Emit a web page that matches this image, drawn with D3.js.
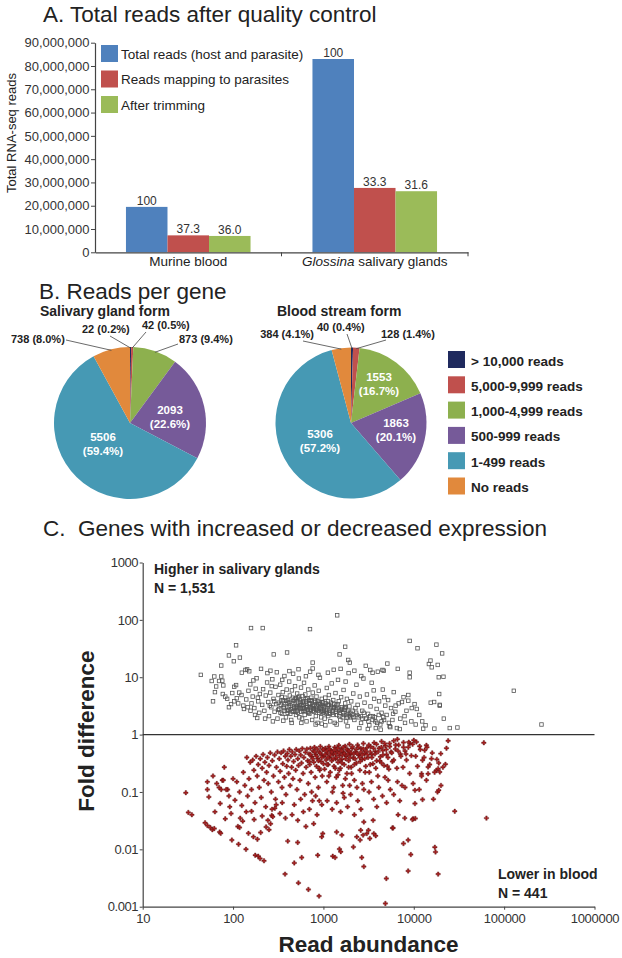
<!DOCTYPE html>
<html><head><meta charset="utf-8">
<script src="https://cdn.jsdelivr.net/npm/d3@7"></script>
<style>
body{margin:0;background:#fff;}
svg{display:block;font-family:"Liberation Sans",Arial,Helvetica,sans-serif;}
</style></head><body>
<svg id="fig" width="622" height="958"></svg>
<script>
// ---------- Panel A data ----------
const barGroups = ["Murine blood", "Glossina salivary glands"];
const barSeries = ["Total reads (host and parasite)", "Reads mapping to parasites", "After trimming"];
const totalReads = [19500000, 83000000];
const parasiteReads = [7270000, 27640000];
const trimmedReads = [7020000, 26230000];
const totalPct = [100, 100];
const parasitePct = [37.3, 33.3];
const trimmedPct = [36.0, 31.6];
const readTicks = [0, 10000000, 20000000, 30000000, 40000000, 50000000, 60000000, 70000000, 80000000, 90000000];

// ---------- Panel B data ----------
const readClasses = ["> 10,000 reads", "5,000-9,999 reads", "1,000-4,999 reads", "500-999 reads", "1-499 reads", "No reads"];
const salivaryCounts = [22, 42, 873, 2093, 5506, 738];
const salivaryPct = [0.2, 0.5, 9.4, 22.6, 59.4, 8.0];
const bloodCounts = [40, 128, 1553, 1863, 5306, 384];
const bloodPct = [0.4, 1.4, 16.7, 20.1, 57.2, 4.1];

// ---------- Panel C data: [read abundance, fold difference] ----------
const foldTicks = [0.001, 0.01, 0.1, 1, 10, 100, 1000];
const abundanceTicks = [10, 100, 1000, 10000, 100000, 1000000];
const higherInSalivary = [
 [1420,120],[158,72],[213,72],[710,69],[9000,43],[17800,37],[11000,32],[108,36],[1740,34],[396,27],[20600,26],[282,25],[1510,25],[90,24],[119,22],[1880,20],[15300,19.5],[102,19],[1960,18],[760,18],[14700,17],[5100,17.3],[18400,16.4],[74,16],[2940,15.8],[15800,14.9],[204,14],[6650,14],[137,13.4],[143,13.7],[3300,13.4],[4500,13.4],[151,12.7],[259,13],[4650,13],[125,12],[9000,12],[44,11],[18900,10],[21300,10.2],[9000,10],[128000,5.8],[259000,1.5],
 [58,8.6],[62,10.3],[70,8.6],[74,10.3],[76,8.7],[65,6.9],[78,7.2],[63,5.5],[77,5.1],[60,3.8],[90,3.0],[86,4.2],[95,3.4],[82,4.6],[98,5.3],
 [108,7.3],[103,6.8],[117,5.4],[124,4.9],[110,4.3],[114,3.5],[103,3.8],[156,2.6],[185,1.95],[130,3.2],[140,4.1],[148,5.8],[160,3.5],[165,4.6],[172,2.9],[178,6.3],[190,3.8],[195,2.4],[132,2.8],[155,7.5],[168,8.8],[182,9.6],[198,5.1],[145,3.0],[175,2.2],[188,4.4],
 [210,3.3],[215,6.2],[222,2.6],[230,4.8],[238,8.1],[245,3.7],[250,2.1],[258,5.4],[265,3.0],[272,9.2],[280,4.2],[288,2.5],[295,6.8],[300,3.4],[310,1.9],[318,4.9],[325,2.8],[332,7.4],[340,3.9],[348,2.3],[355,5.5],[362,3.1],[370,10.5],[378,4.4],[385,2.0],[392,6.1],[400,3.6],[410,2.7],[418,8.4],[425,4.8],[432,3.2],[440,1.8],[448,5.9],[455,2.5],[462,11.5],[470,3.9],[478,2.9],[485,7.0],[492,4.3],[498,2.2],[240,11.8],[268,7.0],[305,12.2],[350,9.0],[420,12.8],[226,1.9],[276,1.7],[360,1.75],[445,1.6],[320,3.6],[335,2.4],[345,4.5],[365,2.9],[380,3.4],[395,2.6],[405,4.0],[415,3.0],[430,2.3],[450,3.5],[465,2.6],[480,4.1],[495,3.0],
 [505,3.1],[512,5.2],[520,2.4],[528,3.6],[535,9.5],[542,2.0],[550,4.1],[558,2.8],[565,6.6],[572,3.3],[580,1.9],[588,4.7],[595,2.6],[602,3.8],[610,8.0],[620,2.2],[630,5.0],[640,3.0],[650,1.7],[660,4.3],[670,2.7],[680,6.1],[690,3.5],[700,2.3],[712,12.5],[725,4.0],[738,2.9],[750,1.8],[762,5.4],[775,3.2],[788,2.5],[800,7.2],[812,3.7],[825,2.1],[838,4.6],[850,2.8],[862,1.6],[875,3.4],[888,5.8],[900,2.4],[915,9.8],[930,3.0],[945,2.0],[960,4.2],[975,2.6],[990,3.6],[530,13.8],[760,14.2],[880,11.0],[640,10.4],[570,1.6],[820,1.5],[960,1.55],[510,2.6],[525,4.4],[545,3.0],[560,3.7],[585,2.9],[605,3.3],[625,2.6],[645,3.8],[665,3.0],[685,2.4],[705,3.5],[720,2.7],[745,3.9],[770,2.6],[795,3.3],[830,2.7],[860,3.8],[895,2.9],[925,3.4],[955,2.5],[985,3.2],
 [1010,3.0],[1030,1.9],[1050,4.4],[1070,2.5],[1090,6.5],[1110,3.3],[1130,2.1],[1150,4.9],[1170,2.8],[1190,1.7],[1210,3.6],[1235,7.8],[1260,2.4],[1285,4.0],[1310,2.9],[1335,1.6],[1360,5.3],[1390,3.2],[1420,2.2],[1450,9.0],[1480,3.8],[1510,2.6],[1540,1.8],[1570,4.5],[1600,3.0],[1635,2.0],[1670,6.0],[1700,2.7],[1740,3.5],[1780,1.7],[1820,4.2],[1860,2.4],[1900,11.8],[1940,3.1],[1980,2.0],[1120,12.0],[1300,13.5],[1550,14.0],[1760,8.4],[1050,1.45],[1400,1.5],[1850,1.4],[1020,2.6],[1060,3.5],[1100,2.7],[1140,3.3],[1180,2.3],[1225,3.0],[1270,2.6],[1320,3.4],[1370,2.5],[1430,2.9],[1500,2.1],[1560,2.7],[1650,2.4],[1720,2.9],[1800,2.2],[1880,2.6],[1960,2.1],
 [2030,3.8],[2080,2.2],[2140,5.2],[2200,1.8],[2260,2.9],[2320,7.4],[2390,3.3],[2460,2.0],[2530,4.6],[2610,1.6],[2690,2.6],[2770,9.5],[2850,3.6],[2940,1.9],[3030,5.0],[3120,2.3],[3220,1.45],[3320,3.1],[3420,8.0],[3530,2.1],[3640,4.2],[3760,1.7],[3880,2.8],[4000,12.5],[4130,3.8],[4260,1.5],[4400,2.4],[4540,6.1],[4690,1.8],[4840,3.2],[2200,13.0],[3500,12.0],[3100,1.25],[3800,1.3],[4300,1.22],[2500,1.3],[3600,5.9],[4700,4.5],[2620,10.5],[2100,2.6],[2300,2.4],[2600,2.1],[2800,2.4],[3000,1.9],[3300,2.1],[3700,2.0],[4100,2.2],[4600,2.0],
 [5000,2.2],[5200,4.0],[5400,1.4],[5600,2.9],[5800,1.8],[6000,5.5],[6250,2.5],[6500,1.3],[6800,3.5],[7100,1.9],[7400,3.7],[7700,4.5],[8000,1.6],[8300,2.6],[8700,4.9],[8700,3.9],[9400,1.7],[5500,1.35],[7000,1.25],[5900,2.3],[6300,3.2],[7900,2.1],[9500,2.9],[10800,2.8],[12400,1.7],[12700,1.27],[16900,1.27],[25000,1.3],[30400,1.33],[19100,5.1],[19400,3.3],[19400,3.2],[15400,3.6],[16800,3.7],[21500,1.9],[10500,1.5],[11500,2.2],[13500,1.45],[10200,3.4],
 [255,3.2],[285,3.8],[315,2.7],[338,3.3],[358,4.0],[372,2.6],[388,3.9],[402,2.4],[422,3.7],[438,2.8],[458,4.4],[472,3.1],[488,2.5],[502,3.8],[518,2.9],[538,4.6],[552,3.3],[568,2.5],[592,3.6],[612,2.8],[635,4.1],[655,3.2],[675,2.5],[695,3.9],[715,3.0],[735,4.4],[755,3.1],[780,2.8],[805,3.9],[835,3.1],[870,2.6],[905,3.6],[940,2.8],[970,3.7],[1005,2.4],[1045,3.1],[1085,2.3],[1125,3.8],[1165,2.6],[1215,3.3],[1265,2.2],[1315,3.0],[1380,2.7],[1440,3.4],[1520,2.4],[1610,2.8],[1690,2.2],[1770,3.0],[1850,2.0],[1990,2.4],[2150,2.0],[2350,2.2],[2700,1.9],[3150,1.7],[3500,1.8],[3950,1.6],[4400,1.7],[5300,1.6]
];
const lowerInBlood = [
 [30,0.097],[32,0.044],[35,0.040],[49,0.029],[52,0.026],[56,0.024],[59,0.022],[62,0.023],[71,0.020],[73,0.019],[52,0.15],[52,0.11],[54,0.082],[63,0.045],[72,0.063],[76,0.16],[74,0.11],[82,0.034],[87,0.11],[84,0.11],[95,0.042],[97,0.0145],[115,0.0123],[113,0.025],[118,0.024],[139,0.010],[148,0.019],[168,0.0165],[171,0.033],[186,0.015],[176,0.0079],[190,0.0076],[220,0.0063],[199,0.0069],[232,0.0246],[202,0.0196],[243,0.032],[268,0.039],[275,0.037],[376,0.0037],[403,0.0139],[519,0.0132],[476,0.0058],[575,0.0072],[529,0.0026],[682,0.002],[895,0.00153],[865,0.0079],[958,0.0165],[984,0.0188],[1268,0.0076],[1346,0.0072],[1504,0.0101],[1555,0.0091],[1400,0.020],[1600,0.0177],[2148,0.011],[2546,0.0145],[2656,0.0072],[2586,0.0215],[2338,0.0165],[3150,0.0215],[3020,0.0188],
 [28400,0.046],[63700,0.035],[18300,0.10],[9840,0.034],[10400,0.0345],[9660,0.033],[6710,0.040],[5810,0.0236],[7950,0.035],[7690,0.0126],[8660,0.0145],[9270,0.0081],[8660,0.0042],[17100,0.0109],[17400,0.0090],[18600,0.0037],[4970,0.0031],[4850,0.00114],[2750,0.0177],[2800,0.005],[2800,0.030],[3550,0.032],[3610,0.0188],[3790,0.0172],[3260,0.0155],[5900,0.0236],[10300,0.107],[12500,0.0736],[9830,0.14],[13800,0.16],[14400,0.208],[18900,0.107],[17800,0.238],[12200,0.208],[10300,0.0627],
 [24000,0.78],[59600,0.72],[19900,0.466],[22400,0.304],[18900,0.32],[18600,0.255],[19400,0.223],[15700,0.381],[14400,0.273],[13200,0.533],[12500,0.357],[11600,0.626],[13800,0.652],[10700,0.745],[10000,0.796],[9030,0.697],[6590,0.829],
 [80,0.27],[66,0.14],[70,0.12],[78,0.16],[90,0.085],[100,0.17],[105,0.072],[110,0.15],[118,0.10],[125,0.058],[130,0.22],[135,0.13],[142,0.40],[145,0.085],[150,0.17],[92,0.055],[120,0.035],[140,0.045],[128,0.031],[60,0.19],
 [155,0.33],[160,0.11],[165,0.36],[170,0.24],[175,0.065],[180,0.42],[185,0.19],[190,0.30],[195,0.12],[200,0.38],[205,0.08],[210,0.26],[215,0.45],[220,0.16],[225,0.33],[230,0.055],[235,0.22],[240,0.40],[245,0.14],[250,0.29],[258,0.48],[265,0.10],[272,0.35],[280,0.19],[288,0.44],[295,0.075],[302,0.27],[310,0.50],[318,0.15],[325,0.38],[332,0.23],[340,0.48],[348,0.12],[355,0.31],[362,0.52],[370,0.18],[378,0.42],[385,0.09],[392,0.28],[398,0.47],[160,0.046],[210,0.038],[260,0.028],[290,0.052],[330,0.042],[380,0.035],[300,0.06],[350,0.065],[270,0.05],[250,0.022],
 [405,0.36],[412,0.21],[420,0.55],[428,0.13],[436,0.42],[445,0.27],[452,0.50],[460,0.17],[468,0.34],[476,0.06],[485,0.45],[493,0.24],[500,0.55],[510,0.11],[520,0.38],[530,0.29],[540,0.52],[550,0.16],[560,0.44],[572,0.32],[584,0.57],[596,0.21],[608,0.40],[620,0.09],[632,0.49],[644,0.27],[656,0.56],[668,0.35],[680,0.14],[692,0.46],[705,0.30],[718,0.58],[731,0.22],[744,0.41],[757,0.07],[770,0.52],[783,0.33],[796,0.60],[810,0.18],[824,0.45],[838,0.28],[852,0.56],[866,0.38],[880,0.12],[895,0.50],[910,0.24],[925,0.62],[940,0.34],[955,0.44],[970,0.19],[985,0.55],[1000,0.31],[450,0.04],[520,0.032],[600,0.045],[700,0.05],[780,0.028],[850,0.04],[900,0.07],[640,0.025],[560,0.075],[740,0.10],[820,0.085],[960,0.06],
 [1015,0.42],[1030,0.25],[1050,0.58],[1070,0.36],[1090,0.15],[1110,0.48],[1130,0.30],[1150,0.62],[1170,0.40],[1190,0.22],[1210,0.53],[1235,0.35],[1260,0.10],[1285,0.46],[1310,0.28],[1335,0.60],[1360,0.38],[1390,0.18],[1420,0.51],[1450,0.33],[1480,0.65],[1510,0.43],[1540,0.26],[1570,0.56],[1600,0.37],[1635,0.13],[1670,0.49],[1700,0.30],[1740,0.63],[1780,0.42],[1820,0.21],[1860,0.54],[1900,0.35],[1940,0.68],[1980,0.45],[2030,0.27],[2080,0.58],[2140,0.39],[2200,0.16],[2260,0.50],[2320,0.32],[2390,0.66],[2460,0.44],[2530,0.24],[2610,0.57],[2690,0.37],[2770,0.70],[2850,0.47],[2940,0.28],[1100,0.07],[1250,0.05],[1400,0.065],[1550,0.045],[1700,0.08],[1850,0.055],[2000,0.09],[2200,0.04],[2400,0.07],[2600,0.05],[2800,0.11],[1300,0.12],[1650,0.095],[1950,0.13],[2350,0.12],[2700,0.14],[1150,0.19],[1450,0.2],[1750,0.17],[2050,0.21],
 [3030,0.59],[3120,0.40],[3220,0.22],[3320,0.62],[3420,0.45],[3530,0.31],[3640,0.72],[3760,0.51],[3880,0.35],[4000,0.19],[4130,0.58],[4260,0.41],[4400,0.76],[4540,0.53],[4690,0.29],[4840,0.64],[5000,0.45],[5200,0.16],[5400,0.70],[5600,0.50],[5800,0.34],[6000,0.78],[6250,0.56],[6500,0.26],[6800,0.66],[7100,0.46],[7400,0.13],[7700,0.73],[8000,0.52],[8300,0.36],[8700,0.60],[9000,0.21],[9400,0.43],[9700,0.68],[3200,0.1],[3600,0.075],[4100,0.12],[4500,0.085],[5000,0.065],[5500,0.11],[6000,0.09],[7000,0.07],[8000,0.12],[3400,0.15],[4800,0.18],[6600,0.15],[3900,0.055],[7600,0.27],[5300,0.25],
 [10500,0.42],[11000,0.28],[11800,0.55],[12200,0.19],[13000,0.40],[14000,0.60],[15000,0.30],[16000,0.48],[17000,0.22],[18000,0.37],[20000,0.13],[21000,0.27],[23000,0.58],[11500,0.11],[16500,0.075],
 [720,0.45],[760,0.38],[800,0.50],[840,0.42],[880,0.35],[920,0.48],[960,0.40],[1000,0.55],[1040,0.45],[1080,0.52],[1120,0.40],[1160,0.56],[1200,0.44],[1240,0.50],[1280,0.38],[1320,0.54],[1360,0.46],[1400,0.40],[1440,0.58],[1490,0.48],[1530,0.36],[1580,0.52],[1620,0.44],[1660,0.60],[1710,0.47],[1760,0.38],[1810,0.55],[1870,0.46],[1920,0.52],[1970,0.40],[2040,0.48],[2100,0.62],[2170,0.46],[2240,0.38],[2300,0.55],[2370,0.47],[2440,0.60],[2520,0.40],[2600,0.50],[2680,0.44],[2760,0.56],[2860,0.38],[2960,0.52],[3060,0.45],[3180,0.66],[3300,0.50],[3440,0.40],[3580,0.58],[3720,0.46],[3870,0.68],[4030,0.50],[4200,0.35],[4380,0.60],[4560,0.44],[4760,0.70],[4960,0.55],[5180,0.40],[5420,0.62],[5700,0.48],[6000,0.36],[6300,0.66],[6700,0.52],[7200,0.42],[7700,0.60],[8200,0.46],[8800,0.74],[1100,0.30],[1350,0.26],[1600,0.32],[1900,0.27],[2200,0.30],[2550,0.34],[2900,0.22],[3300,0.30],[3800,0.26],[4400,0.32],[5100,0.28],[900,0.26],[700,0.34],[1500,0.24]
];

// ---------- styling ----------
const FONT = '"Liberation Sans", Arial, Helvetica, sans-serif';
const barColors = ["#4f81bd", "#c0504d", "#9bbb59"];
const pieColors = ["#1f2a5e", "#c0504d", "#8db04e", "#765a99", "#4699b4", "#e1893c"];
const TXT = "#222";

const svg = d3.select("#fig");

function styleAxis(g, fs) {
  g.attr("font-family", FONT);
  g.select(".domain").attr("stroke", "#444").attr("stroke-width", 1.2);
  g.selectAll(".tick line").attr("stroke", "#444");
  g.selectAll(".tick text").attr("fill", "#333").attr("font-size", fs);
}

// ================= Panel A =================
const gA = svg.append("g");
gA.append("text").attr("x", 43).attr("y", 22).attr("font-size", 22.5).attr("fill", TXT)
  .text("A. Total reads after quality control");

const yA = d3.scaleLinear().domain([0, 90000000]).range([252.3, 42.7]);
const xA = d3.scaleBand().domain(barGroups).range([95, 468]);
const bw = xA.bandwidth();
const xSub = d3.scaleBand().domain(barSeries).range([bw * 0.166, bw * 0.834]);
const seriesValues = [totalReads, parasiteReads, trimmedReads];
const seriesPct = [totalPct, parasitePct, trimmedPct];
const fmtPct = p => (p === 100 ? "100" : p.toFixed(1));

barGroups.forEach((grp, gi) => {
  barSeries.forEach((s, si) => {
    const v = seriesValues[si][gi];
    const x0 = xA(grp) + xSub(s);
    gA.append("rect").attr("x", x0).attr("y", yA(v)).attr("width", xSub.bandwidth())
      .attr("height", yA(0) - yA(v)).attr("fill", barColors[si]);
    gA.append("text").attr("x", x0 + xSub.bandwidth() / 2).attr("y", yA(v) - 2)
      .attr("text-anchor", "middle").attr("font-size", 12).attr("fill", "#333")
      .text(fmtPct(seriesPct[si][gi]));
  });
});

const ayA = gA.append("g").attr("transform", "translate(95,0)")
  .call(d3.axisLeft(yA).tickValues(readTicks).tickFormat(d3.format(",")).tickSize(4).tickSizeOuter(0).tickPadding(1.5));
styleAxis(ayA, 13);

const axA = gA.append("g").attr("transform", `translate(0,${yA(0)})`)
  .call(d3.axisBottom(xA).tickSize(0).tickSizeOuter(0).tickFormat(""));
styleAxis(axA, 13);
[xA(barGroups[1]), xA.range()[1]].forEach(x => {
  gA.append("line").attr("x1", x).attr("x2", x).attr("y1", yA(0)).attr("y2", yA(0) + 4)
    .attr("stroke", "#444").attr("stroke-width", 1);
});
gA.append("text").attr("x", xA(barGroups[0]) + bw / 2).attr("y", 266).attr("text-anchor", "middle")
  .attr("font-size", 13.5).attr("fill", TXT).text(barGroups[0]);
const gl = gA.append("text").attr("x", xA(barGroups[1]) + bw / 2).attr("y", 266).attr("text-anchor", "middle")
  .attr("font-size", 13.5).attr("fill", TXT);
const glParts = barGroups[1].split(" ");
gl.append("tspan").attr("font-style", "italic").text(glParts[0]);
gl.append("tspan").text(" " + glParts.slice(1).join(" "));

gA.append("text").attr("transform", "translate(16,133) rotate(-90)").attr("text-anchor", "middle")
  .attr("font-size", 13).attr("fill", TXT).text("Total RNA-seq reads");

barSeries.forEach((s, i) => {
  const y = 45 + i * 25.5;
  gA.append("rect").attr("x", 101).attr("y", y).attr("width", 17).attr("height", 17).attr("fill", barColors[i]);
  gA.append("text").attr("x", 121).attr("y", y + 13.5).attr("font-size", 13.5).attr("fill", TXT).text(s);
});

// ================= Panel B =================
const gB = svg.append("g");
gB.append("text").attr("x", 39).attr("y", 299).attr("font-size", 22.5).attr("fill", TXT).text("B. Reads per gene");

const pieGen = d3.pie().sort(null).value(d => d);
const label = (c, p) => `${c} (${p.toFixed(1)}%)`;

function drawPie(cx, cy, r, counts, pcts, title, titleX, layout) {
  const g = gB.append("g");
  g.append("text").attr("x", titleX).attr("y", 316).attr("font-size", 14).attr("font-weight", "bold")
    .attr("fill", TXT).text(title);
  const arcs = pieGen(counts);
  const arc = d3.arc().innerRadius(0).outerRadius(r);
  const edge = d3.arc().innerRadius(r - 1).outerRadius(r - 1);
  const pg = g.append("g").attr("transform", `translate(${cx},${cy})`);
  pg.selectAll("path").data(arcs).join("path").attr("d", arc).attr("fill", (d, i) => pieColors[i]);
  layout.forEach((L, i) => {
    const c = counts[i], p = pcts[i];
    if (L.inside) {
      g.append("text").attr("x", L.x).attr("y", L.y).attr("text-anchor", "middle").attr("font-size", 11.5)
        .attr("font-weight", "bold").attr("fill", "#fff").text(c);
      g.append("text").attr("x", L.x).attr("y", L.y + 14).attr("text-anchor", "middle").attr("font-size", 11.5)
        .attr("font-weight", "bold").attr("fill", "#fff").text(`(${p.toFixed(1)}%)`);
    } else {
      const e = edge.centroid(arcs[i]);
      g.append("line").attr("x1", L.lx).attr("y1", L.ly).attr("x2", cx + e[0]).attr("y2", cy + e[1])
        .attr("stroke", "#444").attr("stroke-width", 0.8);
      g.append("text").attr("x", L.x).attr("y", L.y).attr("text-anchor", L.anchor || "start")
        .attr("font-size", 11).attr("font-weight", "bold").attr("fill", TXT).text(label(c, p));
    }
  });
}

drawPie(130, 423, 76, salivaryCounts, salivaryPct, "Salivary gland form", 40, [
  { x: 82, y: 333, lx: 110, ly: 336 },
  { x: 142, y: 329, lx: 146, ly: 332 },
  { x: 179, y: 343, lx: 178, ly: 344 },
  { inside: true, x: 170, y: 413.5 },
  { inside: true, x: 103, y: 440.5 },
  { x: 11, y: 343, lx: 66, ly: 340 }
]);
drawPie(351, 423, 75.5, bloodCounts, bloodPct, "Blood stream form", 277, [
  { x: 317, y: 331, lx: 347, ly: 334 },
  { x: 381, y: 338, lx: 386, ly: 340 },
  { inside: true, x: 379, y: 380.5 },
  { inside: true, x: 396, y: 427 },
  { inside: true, x: 320, y: 438 },
  { x: 314, y: 338, anchor: "end", lx: 303, ly: 341 }
]);

readClasses.forEach((c, i) => {
  const y = 351 + i * 25.3;
  gB.append("rect").attr("x", 448).attr("y", y).attr("width", 17).attr("height", 17).attr("fill", pieColors[i]);
  gB.append("text").attr("x", 471).attr("y", y + 14.5).attr("font-size", 13.5).attr("font-weight", "bold")
    .attr("fill", TXT).text(c);
});

// ================= Panel C =================
const gC = svg.append("g");
gC.append("text").attr("x", 43).attr("y", 536).attr("font-size", 22.5).attr("fill", TXT)
  .attr("xml:space", "preserve").style("white-space", "pre")
  .text("C.  Genes with increased or decreased expression");

const xC = d3.scaleLog().domain([10, 1000000]).range([142.7, 594.5]);
const yC = d3.scaleLog().domain([0.001, 1000]).range([906.7, 562.5]);

const fmtFold = d => (d >= 1 ? String(d) : String(+d.toFixed(3)));
const ayC = gC.append("g").attr("transform", `translate(${xC.range()[0]},0)`)
  .call(d3.axisLeft(yC).tickValues(foldTicks).tickFormat(fmtFold).tickSize(3).tickSizeOuter(0).tickPadding(1.5));
styleAxis(ayC, 13);
ayC.selectAll(".tick text").attr("letter-spacing", -0.4);

const axC = gC.append("g").attr("transform", `translate(0,${yC.range()[0]})`)
  .call(d3.axisBottom(xC).tickValues(abundanceTicks).tickFormat(d => String(d)).tickSize(3).tickSizeOuter(0).tickPadding(4));
styleAxis(axC, 13);
axC.selectAll(".tick text").attr("letter-spacing", -0.3);

gC.append("line").attr("x1", xC.range()[0]).attr("x2", xC.range()[1]).attr("y1", yC(1)).attr("y2", yC(1))
  .attr("stroke", "#333").attr("stroke-width", 1.2);

const cross = d3.symbol().type(d3.symbolCross).size(11);
gC.append("g").selectAll("path").data(lowerInBlood).join("path")
  .attr("transform", d => `translate(${xC(d[0])},${yC(d[1])})`)
  .attr("d", cross).attr("fill", "#a81f1f").attr("stroke", "#4d0b0b").attr("stroke-width", 0.35);

gC.append("g").selectAll("rect").data(higherInSalivary).join("rect")
  .attr("x", d => xC(d[0]) - 1.75).attr("y", d => yC(d[1]) - 1.75).attr("width", 3.5).attr("height", 3.5)
  .attr("fill", "none").attr("stroke", "#555").attr("stroke-width", 0.8);

gC.append("text").attr("x", 154).attr("y", 574).attr("font-size", 14).attr("font-weight", "bold").attr("fill", TXT)
  .text("Higher in salivary glands");
gC.append("text").attr("x", 154).attr("y", 592.5).attr("font-size", 14).attr("font-weight", "bold").attr("fill", TXT)
  .text("N = 1,531");
gC.append("text").attr("x", 498).attr("y", 879).attr("font-size", 14).attr("font-weight", "bold").attr("fill", TXT)
  .text("Lower in blood");
gC.append("text").attr("x", 498).attr("y", 898).attr("font-size", 14).attr("font-weight", "bold").attr("fill", TXT)
  .text("N = 441");

gC.append("text").attr("transform", "translate(94,731) rotate(-90)").attr("text-anchor", "middle")
  .attr("font-size", 22.5).attr("font-weight", "bold").attr("fill", TXT).text("Fold difference");
gC.append("text").attr("x", (xC.range()[0] + xC.range()[1]) / 2).attr("y", 952).attr("text-anchor", "middle")
  .attr("font-size", 22.5).attr("font-weight", "bold").attr("fill", TXT).text("Read abundance");
</script></body></html>
